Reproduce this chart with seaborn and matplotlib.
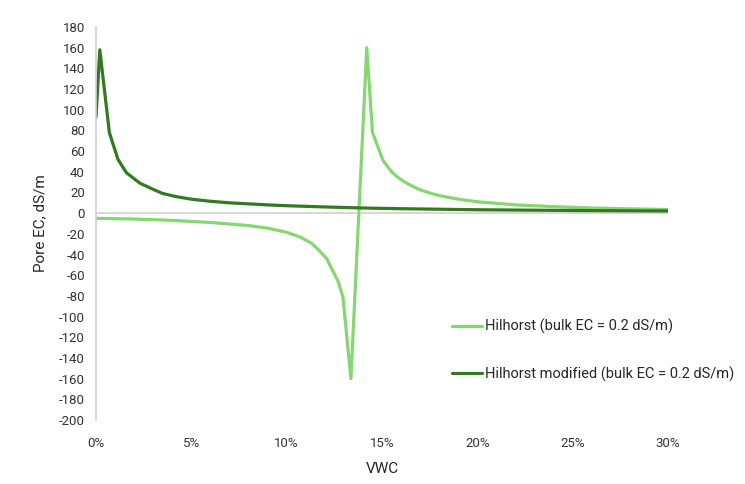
import matplotlib
matplotlib.use("Agg")
import matplotlib.pyplot as plt
import seaborn as sns
import pandas as pd
from matplotlib.ticker import FuncFormatter, MultipleLocator

# Data (VWC in fraction, pore EC in dS/m)
vwc_hilhorst = [0.0, 0.01, 0.02, 0.03, 0.04, 0.05, 0.06, 0.07, 0.08, 0.09, 0.10,
                0.107, 0.113, 0.117, 0.121, 0.124, 0.127, 0.1295, 0.1337,
                0.142, 0.145, 0.1505, 0.155, 0.158, 0.162, 0.166, 0.17, 0.175,
                0.18, 0.19, 0.20, 0.22, 0.24, 0.26, 0.28, 0.30]
ec_hilhorst = [-5.0, -5.3, -5.7, -6.3, -7.0, -8.0, -9.0, -10.5, -12.0, -14.5, -18.5,
               -23, -29, -36, -44, -55, -66, -81, -160,
               160, 78, 51, 40, 35, 30, 26, 22.5, 19.5,
               17, 13.5, 11, 8, 6.3, 5, 4.2, 3.5]

vwc_modified = [0.0, 0.002, 0.007, 0.0115, 0.016, 0.023, 0.030, 0.035, 0.042, 0.05,
                0.06, 0.07, 0.08, 0.09, 0.10, 0.12, 0.14, 0.16, 0.18, 0.20,
                0.22, 0.25, 0.30]
ec_modified = [93, 158, 78, 52, 39, 29, 23, 19, 16, 13.5,
               11.5, 10, 9, 8, 7.2, 6, 5, 4.3, 3.8, 3.3,
               3.0, 2.6, 2.1]

label_h = "Hilhorst (bulk EC = 0.2 dS/m)"
label_m = "Hilhorst modified (bulk EC = 0.2 dS/m)"

df = pd.concat([
    pd.DataFrame({"VWC": vwc_hilhorst, "EC": ec_hilhorst, "series": label_h}),
    pd.DataFrame({"VWC": vwc_modified, "EC": ec_modified, "series": label_m}),
], ignore_index=True)

sns.set_theme(style="white")
plt.rcParams["font.family"] = ["Roboto", "DejaVu Sans"]
plt.rcParams["axes.unicode_minus"] = False

fig = plt.figure(figsize=(7.45, 4.84), dpi=100)
ax = fig.add_axes([96 / 745, 1 - 420 / 484, 572 / 745, (420 - 27) / 484])

palette = {label_h: "#86D771", label_m: "#337A1F"}
sns.lineplot(data=df, x="VWC", y="EC", hue="series", palette=palette,
             estimator=None, sort=False, linewidth=2.3, ax=ax)

ax.set_xlim(0, 0.30)
ax.set_ylim(-200, 180)
ax.yaxis.set_major_locator(MultipleLocator(20))
ax.xaxis.set_major_locator(MultipleLocator(0.05))
ax.xaxis.set_major_formatter(FuncFormatter(lambda v, p: f"{v*100:.0f}%"))

for s in ["top", "right", "bottom"]:
    ax.spines[s].set_visible(False)
ax.spines["left"].set_color("#d0d0d0")
ax.spines["left"].set_linewidth(1.2)
ax.axhline(0, color="#d0d0d0", linewidth=1.2, zorder=0)

ax.tick_params(axis="both", length=0, labelsize=9.5, colors="#333333")
ax.tick_params(axis="y", pad=8)
ax.tick_params(axis="x", pad=12)

ax.set_xlabel("VWC", fontsize=11, color="#262626", labelpad=9)
ax.set_ylabel("Pore EC, dS/m", fontsize=11, color="#262626", labelpad=8)

leg = ax.legend(loc="upper left", bbox_to_anchor=(0.613, 0.272), frameon=False,
                fontsize=10.5, labelspacing=2.2, handlelength=2.0,
                handletextpad=0.2, borderaxespad=0)
for t in leg.get_texts():
    t.set_color("#262626")

fig.savefig("out.png", dpi=100)
